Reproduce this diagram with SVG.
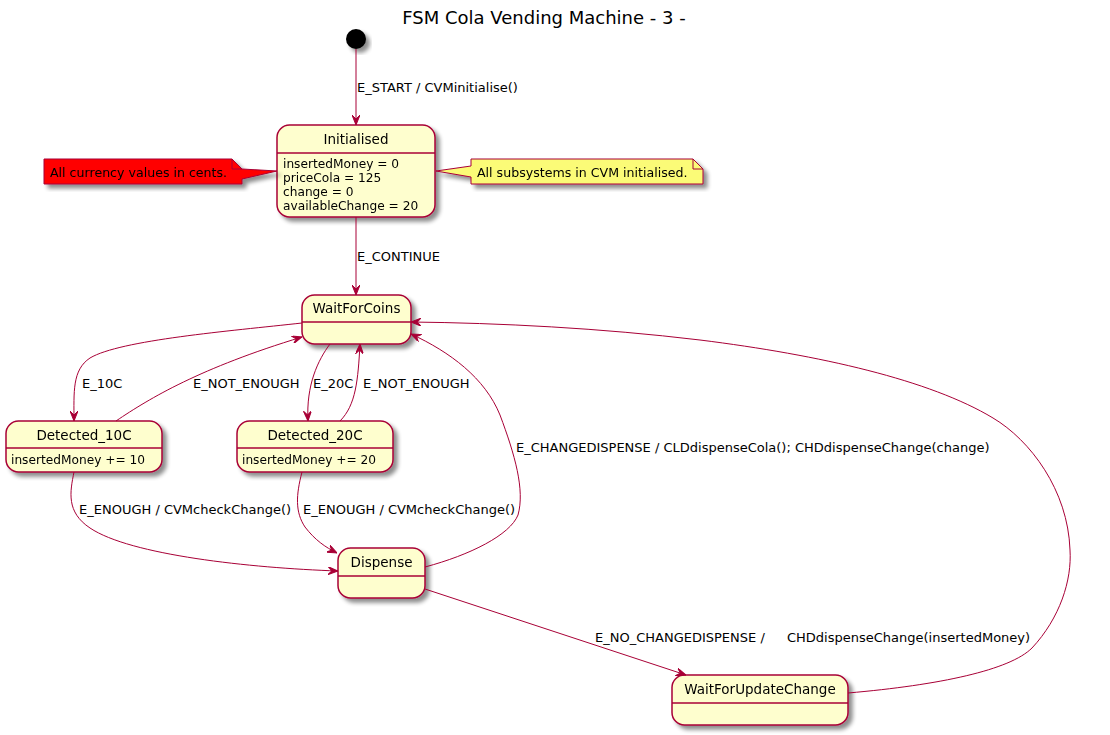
<svg xmlns="http://www.w3.org/2000/svg" width="1110" height="735" viewBox="0 0 1110 735">
<defs>
<filter id="sh" x="-20%" y="-20%" width="150%" height="150%">
<feGaussianBlur in="SourceAlpha" stdDeviation="2"/>
<feOffset dx="4" dy="4" result="b"/>
<feComponentTransfer in="b" result="c"><feFuncA type="linear" slope="0.45"/></feComponentTransfer>
<feMerge><feMergeNode in="c"/><feMergeNode in="SourceGraphic"/></feMerge>
</filter>
<marker id="ah" viewBox="0 0 10 8" refX="10" refY="4" markerWidth="10" markerHeight="8" markerUnits="userSpaceOnUse" orient="auto">
<path d="M0,0 L10,4 L0,8 L4,4 Z" fill="#A80036" stroke="#A80036" stroke-width="1"/>
</marker>
</defs>
<style>
text{font-family:"DejaVu Sans","Liberation Sans",sans-serif;fill:#000}
.st{fill:#FEFECE;stroke:#A80036;stroke-width:1.5}
.dv{stroke:#A80036;stroke-width:1.5}
.nm{font-size:13.5px;text-anchor:middle}
.at{font-size:12.2px}
.lb{font-size:13px}
.cn path{fill:none;stroke:#A80036;stroke-width:1;marker-end:url(#ah)}
.nt{font-size:12.6px}
</style>
<rect width="1110" height="735" fill="#fff"/>
<text x="544" y="24" font-size="18" text-anchor="middle">FSM Cola Vending Machine - 3 -</text>

<g id="start"><circle cx="356" cy="39" r="10" fill="#000" filter="url(#sh)"/></g>

<g id="Initialised" filter="url(#sh)">
<rect class="st" x="277" y="125" width="158" height="92" rx="12.5"/>
<line class="dv" x1="277" y1="153" x2="435" y2="153"/>
<text class="nm" x="356" y="144">Initialised</text>
<text class="at" x="283" y="168">insertedMoney = 0</text>
<text class="at" x="283" y="182">priceCola = 125</text>
<text class="at" x="283" y="196">change = 0</text>
<text class="at" x="283" y="210">availableChange = 20</text>
</g>

<g id="noteRed" filter="url(#sh)">
<path d="M44,159 L232,159 L242,169 L277,171 L242,179 L242,184 L44,184 Z" fill="#FF0000" stroke="#A80036" stroke-width="1"/>
<path d="M232,159 L232,169 L242,169" fill="none" stroke="#A80036" stroke-width="1"/>
<text class="nt" x="50" y="177">All currency values in cents.</text>
</g>

<g id="noteYellow" filter="url(#sh)">
<path d="M471,159 L693,159 L703,169 L703,184 L471,184 L471,177 L436,171 L471,166 Z" fill="#FBFB77" stroke="#A80036" stroke-width="1"/>
<path d="M693,159 L693,169 L703,169" fill="none" stroke="#A80036" stroke-width="1"/>
<text class="nt" x="477" y="177">All subsystems in CVM initialised.</text>
</g>

<g id="WaitForCoins" filter="url(#sh)">
<rect class="st" x="302" y="295" width="109" height="49" rx="12.5"/>
<line class="dv" x1="302" y1="322" x2="411" y2="322"/>
<text class="nm" x="356.5" y="313">WaitForCoins</text>
</g>

<g id="Detected_10C" filter="url(#sh)">
<rect class="st" x="6" y="421" width="156" height="51" rx="12.5"/>
<line class="dv" x1="6" y1="448" x2="162" y2="448"/>
<text class="nm" x="84" y="440">Detected_10C</text>
<text class="at" x="11" y="464">insertedMoney += 10</text>
</g>

<g id="Detected_20C" filter="url(#sh)">
<rect class="st" x="237" y="421" width="156" height="51" rx="12.5"/>
<line class="dv" x1="237" y1="448" x2="393" y2="448"/>
<text class="nm" x="315" y="440">Detected_20C</text>
<text class="at" x="242" y="464">insertedMoney += 20</text>
</g>

<g id="Dispense" filter="url(#sh)">
<rect class="st" x="338" y="548" width="87" height="50" rx="12.5"/>
<line class="dv" x1="338" y1="576" x2="425" y2="576"/>
<text class="nm" x="381.5" y="567">Dispense</text>
</g>

<g id="WaitForUpdateChange" filter="url(#sh)">
<rect class="st" x="672" y="675" width="176" height="50" rx="12.5"/>
<line class="dv" x1="672" y1="703" x2="848" y2="703"/>
<text class="nm" x="760" y="694">WaitForUpdateChange</text>
</g>

<g id="connectors" class="cn">
<path d="M356,49 L356,125"/>
<path d="M356,217 L356,295"/>
<path d="M302,323 C230,331 120,340 90,358 C72,370 74,392 74,421"/>
<path d="M116,421 C150,398 200,368 302,337"/>
<path d="M330,344 C318,360 306,385 308,421"/>
<path d="M340,421 C356,405 358,380 360,344"/>
<path d="M74,472 C70,492 66,512 90,528 C130,555 250,568 338,571"/>
<path d="M302,472 C296,495 295,512 305,527 C315,540 325,547 337,553"/>
<path d="M425,567 C470,555 510,535 518,515 C525,490 515,455 500,415 C485,378 450,352 411,334"/>
<path d="M425,589 L686,675"/>
<path d="M848,693 C940,685 1010,670 1032,648 C1060,618 1072,580 1070,550 C1068,490 1030,440 993,418 C930,380 820,355 700,340 C600,328 500,323 411,322"/>
</g>

<g id="labels">
<text class="lb" x="357" y="92">E_START / CVMinitialise()</text>
<text class="lb" x="357" y="261">E_CONTINUE</text>
<text class="lb" x="82" y="388">E_10C</text>
<text class="lb" x="193" y="388">E_NOT_ENOUGH</text>
<text class="lb" x="313" y="388">E_20C</text>
<text class="lb" x="363" y="388">E_NOT_ENOUGH</text>
<text class="lb" x="79" y="514">E_ENOUGH / CVMcheckChange()</text>
<text class="lb" x="303" y="514">E_ENOUGH / CVMcheckChange()</text>
<text class="lb" x="516" y="452">E_CHANGEDISPENSE / CLDdispenseCola(); CHDdispenseChange(change)</text>
<text class="lb" x="595" y="642"><tspan x="595">E_NO_CHANGEDISPENSE /</tspan><tspan x="787">CHDdispenseChange(insertedMoney)</tspan></text>
</g>
</svg>
